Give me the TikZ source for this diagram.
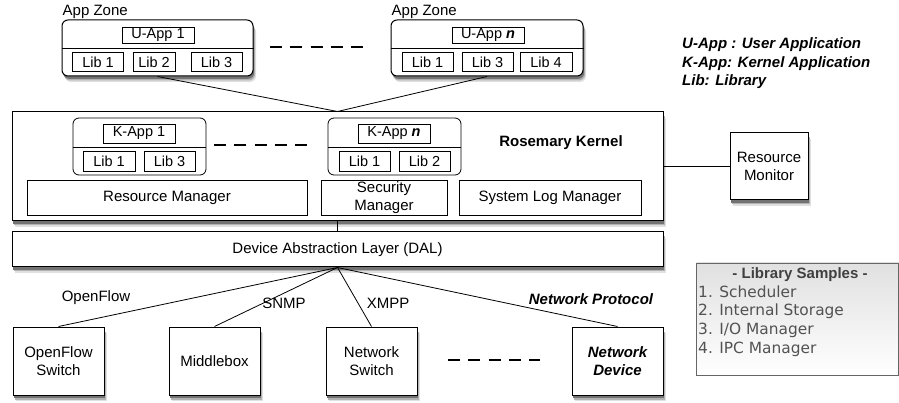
\documentclass[tikz,border=0pt]{standalone}
\usepackage{fontspec}
\setmainfont{Liberation Sans}
\newfontfamily\samplefont{DejaVu Sans}

\begin{document}
\begin{tikzpicture}[x=1pt,y=-1pt,font=\fontsize{15}{17.5}\selectfont]
        \tikzstyle{zone}=[draw=black,line width=1pt,fill=white,rounded corners=6pt,inner sep=0pt]
        \tikzstyle{kzone}=[draw=black,line width=0.8pt,fill=white,rounded corners=6pt,inner sep=0pt,minimum width=133pt,minimum height=57pt]
        \tikzstyle{lib}=[draw=black,line width=0.8pt,fill=white,inner sep=0pt,minimum height=19pt,font=\fontsize{14.5}{16}\selectfont]
        \tikzstyle{part}=[draw=black,line width=0.8pt,fill=white,inner sep=0pt,align=center,minimum height=35pt]
        \tikzstyle{layer}=[draw=black,line width=1pt,fill=white,inner sep=0pt,align=center]
        \tikzstyle{device}=[layer,minimum width=91pt,minimum height=68pt]
        \tikzstyle{edge}=[draw=black,line width=0.8pt]
        \tikzstyle{gap}=[line width=1.8pt,dash pattern=on 12pt off 8.25pt]
        \tikzstyle{shadowbox}=[draw=none,fill=black!55,inner sep=0pt]

        \useasboundingbox (0,0) rectangle (899,403);

        % shadows
        \foreach \sx/\sy/\sw/\sh/\sr in {157.5/48/191/56/6, 487/48/192/56/6, 337.5/166.5/651/109/0, 337.5/249.5/651/35/0,
                                         769/166.5/78/67/0, 58.5/361/91/68/0, 214.5/361/91/68/0, 371.5/361/91/68/0, 617.5/361/91/68/0}{
          \fill [black!12,rounded corners=\sr pt] (\sx-\sw/2+3,\sy-\sh/2+6) rectangle (\sx+\sw/2+3,\sy+\sh/2+6);
          \fill [black!30,rounded corners=\sr pt] (\sx-\sw/2+2,\sy-\sh/2+4.5) rectangle (\sx+\sw/2+2,\sy+\sh/2+4.5);
          \fill [black!55,rounded corners=\sr pt] (\sx-\sw/2+1.2,\sy-\sh/2+2.8) rectangle (\sx+\sw/2+1.2,\sy+\sh/2+2.8);
        }

        % user application zones
        \node [zone,minimum width=191pt,minimum height=56pt] (uz1) at (157.5,48) {};
        \node [zone,minimum width=192pt,minimum height=56pt] (uz2) at (487,48) {};
        \draw [line width=0.8pt] (uz1.west |- 0,48) -- (uz1.east |- 0,48);
        \draw [line width=0.8pt] (uz2.west |- 0,48) -- (uz2.east |- 0,48);
        \node [above right,inner sep=1pt] (uz1title) at (uz1.north west) {App Zone};
        \node [above right,inner sep=1pt] (uz2title) at (uz2.north west) {App Zone};

        \node [lib,minimum width=72pt,minimum height=16pt] (ua1) at (158,35) {U-App 1};
        \node [lib,minimum width=51pt] (ua1lib1) at (98,62) {Lib 1};
        \node [lib,minimum width=42pt] (ua1lib2) at (154,62) {Lib 2};
        \node [lib,minimum width=51pt] (ua1lib3) at (216.5,62) {Lib 3};

        \node [lib,minimum width=72pt,minimum height=16pt] (uan) at (488,35) {U-App \textbf{\textit{n}}};
        \node [lib,minimum width=51pt] (uanlib1) at (427.5,62) {Lib 1};
        \node [lib,minimum width=51pt] (uanlib3) at (487.5,62) {Lib 3};
        \node [lib,minimum width=52pt] (uanlib4) at (546,62) {Lib 4};

        \draw [gap] (270,47) -- (363,47);

        % kernel
        \node [layer,minimum width=651pt,minimum height=109pt] (kernel) at (337.5,166.5) {};
        \node [font=\bfseries\fontsize{15}{17.5}\selectfont] (kerneltitle) at (561,143) {Rosemary Kernel};

        \node [kzone] (kz1) at (139.5,146.5) {};
        \node [kzone] (kzn) at (394.5,146.5) {};
        \draw [line width=0.8pt] (kz1.west |- 0,147) -- (kz1.east |- 0,147);
        \draw [line width=0.8pt] (kzn.west |- 0,147) -- (kzn.east |- 0,147);

        \node [lib,minimum width=72pt] (ka1) at (139,133.5) {K-App 1};
        \node [lib,minimum width=52pt,minimum height=20pt] (ka1lib1) at (109,161) {Lib 1};
        \node [lib,minimum width=51pt,minimum height=20pt] (ka1lib3) at (169.5,161) {Lib 3};

        \node [lib,minimum width=72pt] (kan) at (394,133.5) {K-App \textbf{\textit{n}}};
        \node [lib,minimum width=51pt,minimum height=20pt] (kanlib1) at (364.5,161) {Lib 1};
        \node [lib,minimum width=51pt,minimum height=20pt] (kanlib2) at (424.5,161) {Lib 2};

        \draw [gap] (214,145) -- (307,145);

        \node [part,minimum width=280pt] (resmgr) at (167,197.5) {Resource Manager};
        \node [part,minimum width=126pt] (secmgr) at (384,197.5) {Security\\Manager};
        \node [part,minimum width=182pt] (logmgr) at (550,197.5) {System Log Manager};

        \node [layer,minimum width=651pt,minimum height=35pt] (dal) at (337.5,249.5) {Device Abstraction Layer (DAL)};
        \node [layer,minimum width=78pt,minimum height=67pt] (monitor) at (769,166.5) {Resource\\Monitor};

        % network devices
        \node [device] (ofswitch) at (58.5,361) {OpenFlow\\Switch};
        \node [device] (middlebox) at (214.5,361) {Middlebox};
        \node [device] (netswitch) at (371.5,361) {Network\\Switch};
        \node [device,font=\bfseries\itshape\fontsize{15}{17.5}\selectfont] (netdevice) at (617.5,361) {Network\\Device};

        \draw [gap] (448,360) -- (540,360);

        \path[edge] (uz1.south) edge (kernel.north);
        \path[edge] (uz2.south) edge (kernel.north);
        \path[edge] (kernel.south) edge (dal.north);
        \path[edge] (kernel.east) edge (monitor.west);
        \path[edge] (dal.south) edge (ofswitch.north);
        \path[edge] (dal.south) edge (middlebox.north);
        \path[edge] (dal.south) edge (netswitch.north);
        \path[edge] (dal.south) edge (netdevice.north);

        \node (openflow) at (96,298) {OpenFlow};
        \node (snmp) at (284,303) {SNMP};
        \node (xmpp) at (388,303) {XMPP};
        \node [font=\bfseries\itshape\fontsize{15}{17.5}\selectfont] (protocol) at (591,299) {Network Protocol};

        % legends
        \node [anchor=west,align=left,inner sep=0pt,font=\bfseries\itshape\fontsize{15}{18.5}\selectfont] (legend) at (682,63.5) {U-App : User Application\\K-App: Kernel Application\\Lib: Library};

        \node [draw=black!60,line width=0.8pt,top color=black!12,bottom color=white,inner sep=0pt,minimum width=202pt,minimum height=112pt] (samples) at (797.5,319) {};
        \node [text=black!75,font=\bfseries\fontsize{15}{17.5}\selectfont] (samplestitle) at (800,275) {- Library Samples -};
        \node [anchor=west,align=left,inner sep=0pt,text=black!68,font=\samplefont\fontsize{15.4}{18.7}\selectfont] (samplelist) at (698,321) {1. Scheduler\\2. Internal Storage\\3. I/O Manager\\4. IPC Manager};
\end{tikzpicture}
\end{document}
